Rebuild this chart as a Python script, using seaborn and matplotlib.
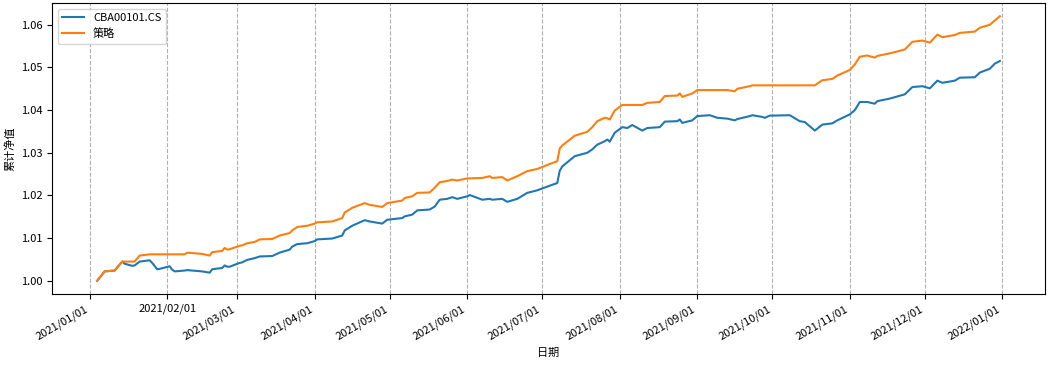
import matplotlib
matplotlib.use('Agg')
import matplotlib.pyplot as plt
import matplotlib.dates as mdates
import seaborn as sns
import pandas as pd

# 日期 (交易日, 2021)
dates = [
    "2021-01-04", "2021-01-07", "2021-01-11", "2021-01-14", "2021-01-15", "2021-01-18",
    "2021-01-19", "2021-01-21", "2021-01-25", "2021-01-26", "2021-01-28", "2021-01-29",
    "2021-02-02", "2021-02-03", "2021-02-04", "2021-02-08", "2021-02-09", "2021-02-15",
    "2021-02-18", "2021-02-19", "2021-02-23", "2021-02-24", "2021-02-25", "2021-02-26",
    "2021-03-02", "2021-03-03", "2021-03-05", "2021-03-08", "2021-03-10", "2021-03-15",
    "2021-03-18", "2021-03-22", "2021-03-23", "2021-03-25", "2021-03-29", "2021-04-01",
    "2021-04-02", "2021-04-08", "2021-04-12", "2021-04-13", "2021-04-16", "2021-04-21",
    "2021-04-23", "2021-04-28", "2021-04-30", "2021-05-06", "2021-05-07", "2021-05-10",
    "2021-05-12", "2021-05-17", "2021-05-19", "2021-05-21", "2021-05-24", "2021-05-26",
    "2021-05-28", "2021-06-01", "2021-06-02", "2021-06-07", "2021-06-10", "2021-06-11",
    "2021-06-15", "2021-06-17", "2021-06-21", "2021-06-25", "2021-06-29", "2021-07-05",
    "2021-07-07", "2021-07-08", "2021-07-09", "2021-07-14", "2021-07-19", "2021-07-21",
    "2021-07-23", "2021-07-26", "2021-07-27", "2021-07-28", "2021-07-30", "2021-08-02",
    "2021-08-04", "2021-08-06", "2021-08-10", "2021-08-12", "2021-08-17", "2021-08-19",
    "2021-08-24", "2021-08-25", "2021-08-26", "2021-08-30", "2021-09-01", "2021-09-06",
    "2021-09-09", "2021-09-13", "2021-09-16", "2021-09-17", "2021-09-22", "2021-09-23",
    "2021-09-27", "2021-09-28", "2021-09-30", "2021-10-08", "2021-10-12", "2021-10-14",
    "2021-10-18", "2021-10-21", "2021-10-25", "2021-10-27", "2021-11-01", "2021-11-03",
    "2021-11-05", "2021-11-08", "2021-11-11", "2021-11-12", "2021-11-17", "2021-11-23",
    "2021-11-26", "2021-11-30", "2021-12-03", "2021-12-06", "2021-12-08", "2021-12-13",
    "2021-12-15", "2021-12-21", "2021-12-23", "2021-12-27", "2021-12-29", "2021-12-31",
]

# 基准 CBA00101.CS
bench = [
    1.0000, 1.0022, 1.0024, 1.0045, 1.0040, 1.0035,
    1.0036, 1.0045, 1.0048, 1.0042, 1.0027, 1.0028,
    1.0034, 1.0026, 1.0022, 1.0024, 1.0025, 1.0022,
    1.0019, 1.0027, 1.0030, 1.0036, 1.0033, 1.0033,
    1.0042, 1.0043, 1.0049, 1.0053, 1.0057, 1.0058,
    1.0066, 1.0073, 1.0080, 1.0086, 1.0088, 1.0093,
    1.0097, 1.0099, 1.0106, 1.0118, 1.0129, 1.0142,
    1.0139, 1.0134, 1.0143, 1.0147, 1.0151, 1.0155,
    1.0165, 1.0167, 1.0174, 1.0190, 1.0192, 1.0196,
    1.0192, 1.0198, 1.0201, 1.0190, 1.0192, 1.0190,
    1.0192, 1.0185, 1.0192, 1.0206, 1.0212, 1.0225,
    1.0229, 1.0258, 1.0268, 1.0292, 1.0300, 1.0308,
    1.0319, 1.0327, 1.0331, 1.0326, 1.0347, 1.0360,
    1.0358, 1.0365, 1.0352, 1.0358, 1.0360, 1.0373,
    1.0374, 1.0378, 1.0370, 1.0376, 1.0386, 1.0388,
    1.0382, 1.0380, 1.0376, 1.0379, 1.0386, 1.0388,
    1.0384, 1.0382, 1.0387, 1.0388, 1.0374, 1.0372,
    1.0352, 1.0366, 1.0369, 1.0376, 1.0390, 1.0400,
    1.0419, 1.0419, 1.0415, 1.0421, 1.0427, 1.0437,
    1.0454, 1.0456, 1.0451, 1.0469, 1.0464, 1.0469,
    1.0476, 1.0477, 1.0488, 1.0497, 1.0509, 1.0515,
]

# 策略
strategy = [
    1.0000, 1.0022, 1.0024, 1.0045, 1.0045, 1.0045,
    1.0045, 1.0059, 1.0062, 1.0062, 1.0062, 1.0062,
    1.0062, 1.0062, 1.0062, 1.0062, 1.0066, 1.0063,
    1.0059, 1.0067, 1.0070, 1.0077, 1.0073, 1.0074,
    1.0082, 1.0083, 1.0088, 1.0091, 1.0097, 1.0098,
    1.0106, 1.0112, 1.0118, 1.0126, 1.0129, 1.0134,
    1.0137, 1.0139, 1.0147, 1.0160, 1.0171, 1.0182,
    1.0178, 1.0173, 1.0182, 1.0188, 1.0194, 1.0198,
    1.0206, 1.0207, 1.0218, 1.0231, 1.0234, 1.0237,
    1.0235, 1.0240, 1.0240, 1.0241, 1.0245, 1.0241,
    1.0243, 1.0235, 1.0245, 1.0257, 1.0262, 1.0276,
    1.0280, 1.0310, 1.0317, 1.0340, 1.0349, 1.0360,
    1.0374, 1.0382, 1.0381, 1.0378, 1.0399, 1.0412,
    1.0412, 1.0412, 1.0412, 1.0417, 1.0419, 1.0433,
    1.0434, 1.0439, 1.0431, 1.0439, 1.0447, 1.0447,
    1.0447, 1.0447, 1.0444, 1.0450, 1.0456, 1.0458,
    1.0458, 1.0458, 1.0458, 1.0458, 1.0458, 1.0458,
    1.0458, 1.0470, 1.0473, 1.0481, 1.0494, 1.0507,
    1.0525, 1.0528, 1.0523, 1.0527, 1.0533, 1.0542,
    1.0560, 1.0563, 1.0558, 1.0577, 1.0571, 1.0576,
    1.0581, 1.0584, 1.0593, 1.0600, 1.0610, 1.0620,
]

series_names = ["CBA00101.CS", "策略"]

df = pd.DataFrame({"日期": pd.to_datetime(dates),
                   series_names[0]: bench,
                   series_names[1]: strategy})
long_df = df.melt(id_vars="日期", var_name="名称", value_name="累计净值")

plt.rcParams['font.family'] = ['Noto Sans CJK SC', 'DejaVu Sans']
plt.rcParams['axes.unicode_minus'] = False
plt.rcParams['font.size'] = 8

fig, ax = plt.subplots(figsize=(10.53, 3.66), dpi=100)
fig.subplots_adjust(left=0.0494, right=0.9924, top=0.9918, bottom=0.1967)

sns.lineplot(data=long_df, x="日期", y="累计净值", hue="名称",
             palette=["#1f77b4", "#ff7f0e"], linewidth=1.5, ax=ax)

ax.xaxis.set_major_locator(mdates.MonthLocator())
ax.xaxis.set_major_formatter(mdates.DateFormatter("%Y/%m/%d"))
ax.grid(axis='x', linestyle='--', color='#b0b0b0', linewidth=0.8)
ax.set_xlabel("日期", fontsize=8)
ax.set_ylabel("累计净值", fontsize=8)
ax.legend(loc='upper left', fontsize=8)

# 标签旋转 (原图中 2021/02/01 未旋转)
for i, lbl in enumerate(ax.get_xticklabels()):
    if i == 1:
        lbl.set_rotation(0)
        lbl.set_ha('center')
    else:
        lbl.set_rotation(30)
        lbl.set_ha('right')

fig.savefig("out.png", dpi=100)
plt.close(fig)
